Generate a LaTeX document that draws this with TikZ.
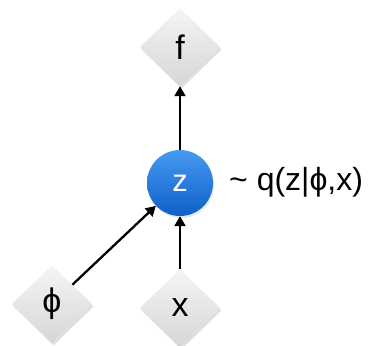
\documentclass[tikz,border=0pt]{standalone}
\usepackage{fontspec}
\setmainfont{Liberation Sans}
\usetikzlibrary{shapes.geometric,arrows.meta,shadows}
\definecolor{bluetop}{RGB}{70,155,240}
\definecolor{bluebot}{RGB}{15,95,200}
\begin{document}
\begin{tikzpicture}[x=1pt,y=1pt,
  dia/.style={diamond, minimum width=80pt, minimum height=78pt, inner sep=0pt,
    top color=gray!8, bottom color=gray!32, draw=none,
    drop shadow={opacity=0.25, shadow xshift=1.5pt, shadow yshift=-2.5pt},
    font=\fontsize{34}{38}\selectfont},
  lat/.style={circle, minimum size=66pt, inner sep=0pt,
    top color=bluetop, bottom color=bluebot, draw=none, text=white,
    drop shadow={opacity=0.2, shadow xshift=1pt, shadow yshift=-2pt},
    font=\fontsize{31}{34}\selectfont},
  arr/.style={-{Triangle[length=10pt,width=11pt]}, line width=2.3pt, black}]
\useasboundingbox (0,0) rectangle (373,346);
\node[dia] (f) at (180,299) {f};
\node[lat] (z) at (180,163) {z};
\node[dia] (phi) at (52,42) {ϕ};
\node[dia] (x) at (180,38) {x};
\node[anchor=west, inner sep=0pt, font=\fontsize{32}{36}\selectfont] (lbl) at (229,164) {\textasciitilde{} q(z|ϕ,x)};
\draw[arr] (z) -- (f);
\draw[arr] (phi) -- (z);
\draw[arr] (x) -- (z);
\end{tikzpicture}
\end{document}
